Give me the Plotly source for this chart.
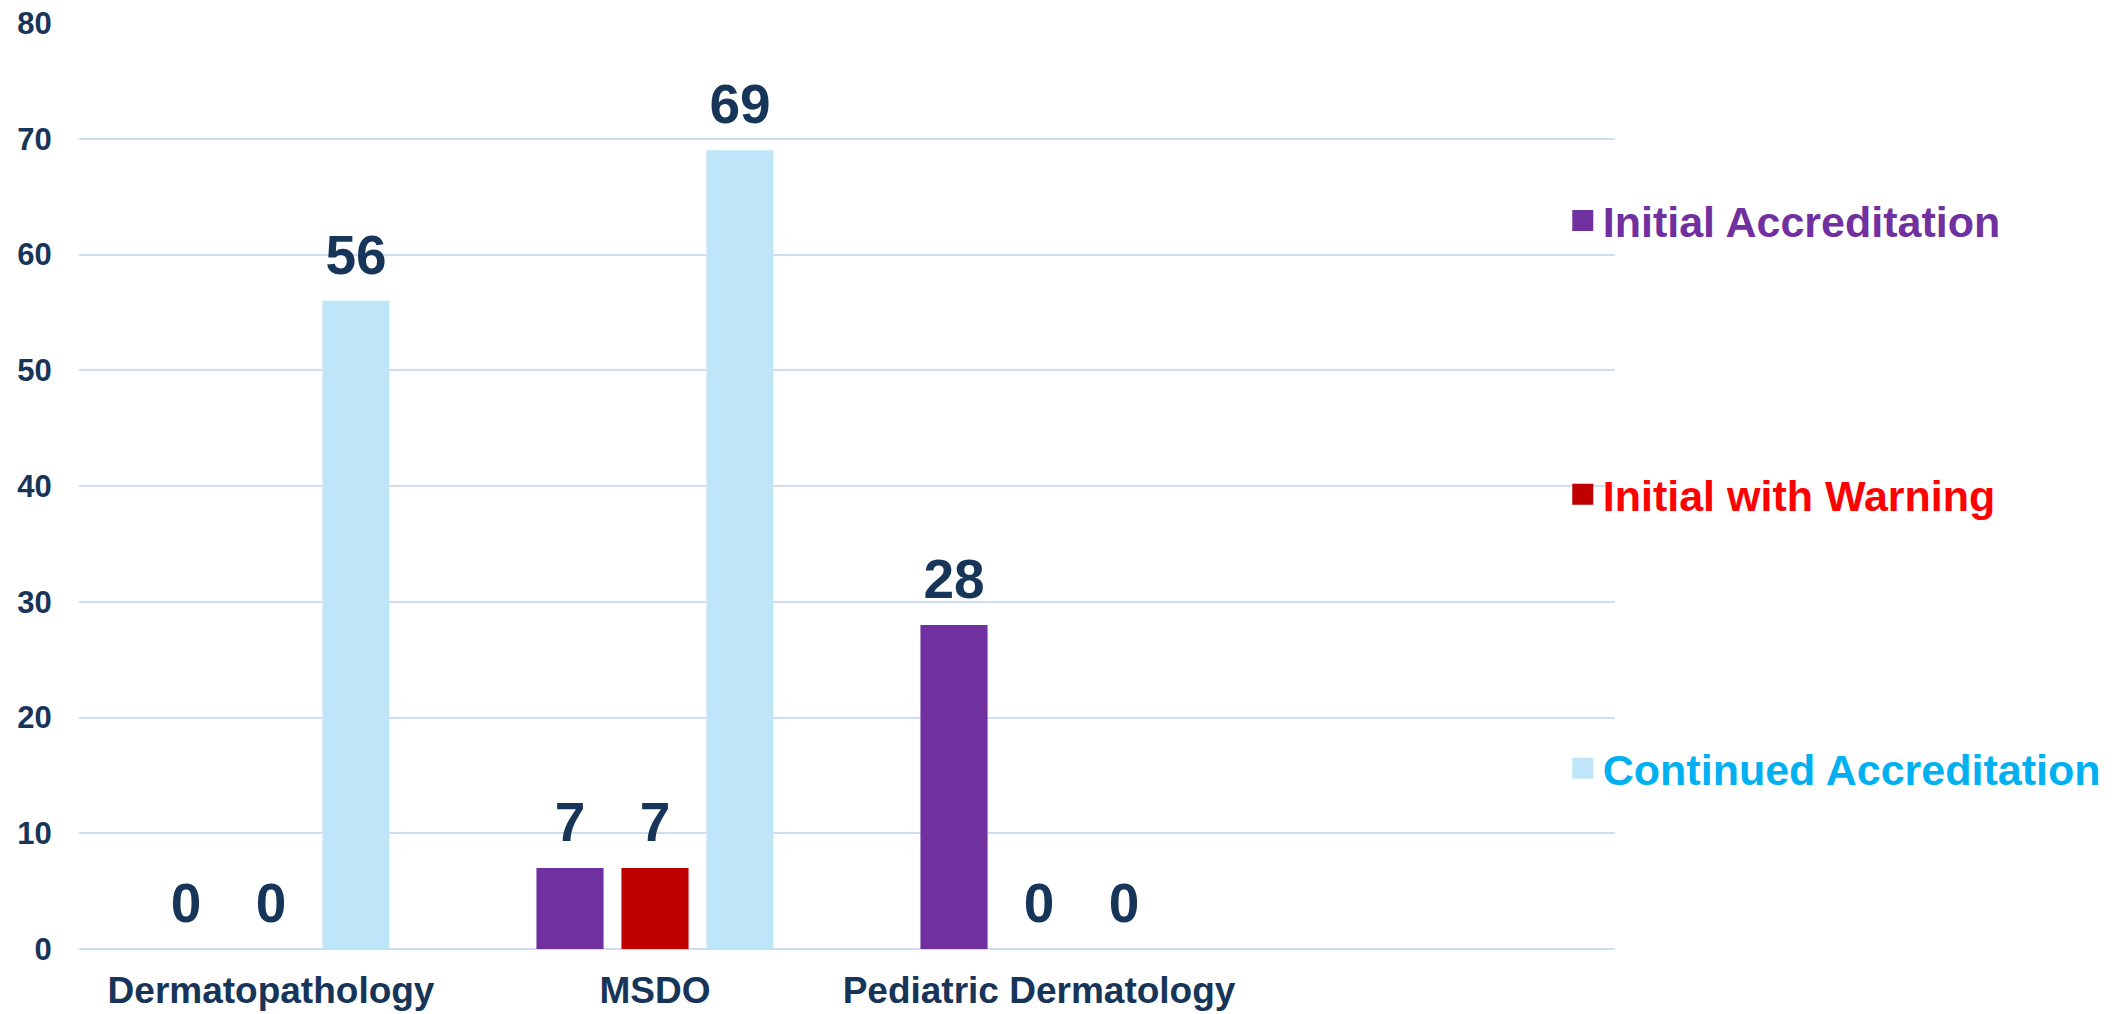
import plotly.graph_objects as go

categories = ["Dermatopathology", "MSDO", "Pediatric Dermatology"]
series_names = ["Initial Accreditation", "Initial with Warning", "Continued Accreditation"]
initial_accreditation = [0, 7, 28]
initial_with_warning = [0, 7, 0]
continued_accreditation = [56, 69, 0]
y_ticks = [0, 10, 20, 30, 40, 50, 60, 70, 80]

values = [initial_accreditation, initial_with_warning, continued_accreditation]
bar_colors = ["#7030A0", "#C00000", "#BEE6F8"]
legend_text_colors = ["#7030A0", "#FF0000", "#00B0F0"]
navy = "#173459"
FONT = "Liberation Sans"

fig = go.Figure()

# Bars
for i, (name, vals, col) in enumerate(zip(series_names, values, bar_colors)):
    fig.add_trace(go.Bar(
        x=categories, y=vals, name=name, marker=dict(color=col, line=dict(width=0)),
        offsetgroup="g%d" % i, showlegend=False, hoverinfo="x+y+name",
    ))

# Value labels (grouped scatter aligned with bars)
for i, (name, vals) in enumerate(zip(series_names, values)):
    fig.add_trace(go.Scatter(
        x=categories, y=vals, mode="markers+text", text=[str(v) for v in vals],
        textposition="top center",
        textfont=dict(family=FONT, size=55, color=navy, weight="bold"),
        marker=dict(size=20, color="rgba(0,0,0,0)"),
        offsetgroup="g%d" % i, showlegend=False, hoverinfo="skip", cliponaxis=False,
    ))

# Legend entries
for i, (name, col, tcol) in enumerate(zip(series_names, bar_colors, legend_text_colors)):
    fig.add_trace(go.Scatter(
        x=[None], y=[None], mode="markers",
        name="<span style='color:%s'>%s</span>" % (tcol, name),
        marker=dict(symbol="square", size=16, color=col, line=dict(width=5, color=col)),
        offsetgroup="g%d" % i, legendgroup="lg%d" % i, showlegend=True,
    ))

fig.update_layout(
    width=2128, height=1014,
    margin=dict(l=79, r=513, t=23, b=65, autoexpand=False),
    paper_bgcolor="white", plot_bgcolor="white",
    barmode="group", bargap=0.336, bargroupgap=0.21,
    scattermode="group", scattergap=0.336,
    font=dict(family=FONT, color=navy),
    showlegend=True,
    legend=dict(
        x=0.966, xanchor="left", y=0.824, yanchor="top",
        font=dict(family=FONT, size=43, weight="bold"),
        tracegroupgap=215, bgcolor="rgba(0,0,0,0)", itemsizing="trace",
        valign="middle",
    ),
    xaxis=dict(
        type="category", range=[-0.5, 3.5], showgrid=False, zeroline=False,
        showline=False, ticks="outside", ticklen=9, tickcolor="rgba(0,0,0,0)",
        tickfont=dict(family=FONT, size=37, color=navy, weight="bold"),
        fixedrange=True, automargin=False,
    ),
    yaxis=dict(
        range=[0, 80], tickvals=y_ticks, showgrid=True, gridcolor="#D0DEF2", gridwidth=2,
        zeroline=True, zerolinecolor="#D0DEF2", zerolinewidth=2, showline=False,
        ticks="outside", ticklen=20, tickcolor="rgba(0,0,0,0)",
        tickfont=dict(family=FONT, size=31, color=navy, weight="bold"),
        fixedrange=True, automargin=False,
    ),
)

fig.write_html(
    "out.html",
    config={"displayModeBar": False},
    post_script="document.body.style.margin='0';document.body.style.overflow='hidden';",
)
